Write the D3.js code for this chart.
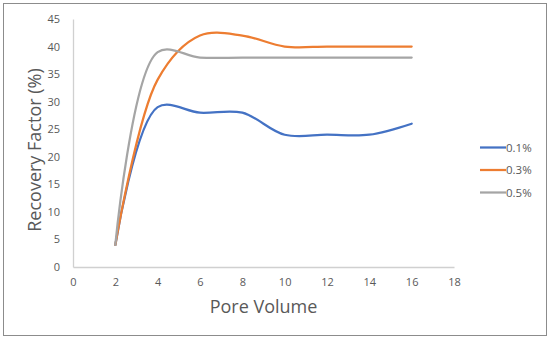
<!DOCTYPE html>
<html>
<head>
<meta charset="utf-8">
<script src="https://cdn.jsdelivr.net/npm/d3@7"></script>
<style>
  body { margin: 0; background: #fff; }
  text { font-family: "Open Sans", "Liberation Sans", sans-serif; }
</style>
</head>
<body>
<div id="chart"></div>
<script>
// data
var poreVolume = [2, 4, 6, 8, 10, 12, 14, 16];
var rf01 = [4, 29, 28, 28, 24, 24, 24, 26];
var rf03 = [4, 34, 42, 42, 40, 40, 40, 40];
var rf05 = [4, 39, 38, 38, 38, 38, 38, 38];
var seriesNames = ["0.1%", "0.3%", "0.5%"];
var xTicks = [0, 2, 4, 6, 8, 10, 12, 14, 16, 18];
var yTicks = [0, 5, 10, 15, 20, 25, 30, 35, 40, 45];

var colors = ["#4472C4", "#ED7D31", "#A5A5A5"];
var W = 550, H = 339;
var margin = { top: 19, right: 96, bottom: 72, left: 73 };

var svg = d3.select("#chart").append("svg")
  .attr("width", W)
  .attr("height", H);

// outer frame
svg.append("rect")
  .attr("x", 3.5).attr("y", 3.5)
  .attr("width", W - 7).attr("height", H - 7)
  .style("fill", "#fff")
  .style("stroke", "#8c8c8c")
  .style("stroke-width", 1);

var x = d3.scaleLinear().domain([0, 18]).range([margin.left, W - margin.right]);
var y = d3.scaleLinear().domain([0, 45]).range([H - margin.bottom, margin.top]);

// axes
var xAxis = svg.append("g")
  .attr("transform", "translate(0," + y(0) + ")")
  .call(d3.axisBottom(x).tickValues(xTicks).tickSize(0).tickPadding(11));
var yAxis = svg.append("g")
  .attr("transform", "translate(" + x(0) + ",0)")
  .call(d3.axisLeft(y).tickValues(yTicks).tickSize(0).tickPadding(13));

[xAxis, yAxis].forEach(function (a) {
  a.select(".domain").style("stroke", "#d0d0d0").style("stroke-width", 1.3);
  a.selectAll("text").style("fill", "#595959").style("font-size", "11px")
    .style("font-family", "'Open Sans', sans-serif");
});

// axis titles
svg.append("text")
  .attr("x", (x(0) + x(18)) / 2)
  .attr("y", 313)
  .attr("text-anchor", "middle")
  .style("font-size", "18px")
  .style("fill", "#595959")
  .text("Pore Volume");

svg.append("text")
  .attr("transform", "translate(41,150) rotate(-90)")
  .attr("text-anchor", "middle")
  .style("font-size", "18px")
  .style("fill", "#595959")
  .text("Recovery Factor (%)");

// lines (smoothed like the spreadsheet's smooth line option)
var series = [rf01, rf03, rf05];
var line = d3.line()
  .x(function (d, i) { return x(poreVolume[i]); })
  .y(function (d) { return y(d); })
  .curve(d3.curveCatmullRom.alpha(0.5));

svg.selectAll(".series")
  .data(series)
  .enter().append("path")
  .attr("class", "series")
  .attr("d", function (d) { return line(d); })
  .style("fill", "none")
  .style("stroke", function (d, i) { return colors[i]; })
  .style("stroke-width", 2.25)
  .style("stroke-linecap", "round");

// legend
var legend = svg.selectAll(".legend")
  .data(seriesNames)
  .enter().append("g")
  .attr("class", "legend")
  .attr("transform", function (d, i) { return "translate(480," + (147.5 + i * 22.5) + ")"; });

legend.append("line")
  .attr("x1", 0).attr("x2", 26)
  .style("stroke", function (d, i) { return colors[i]; })
  .style("stroke-width", 2.25);

legend.append("text")
  .attr("x", 26)
  .attr("dy", "0.35em")
  .style("font-size", "11.5px")
  .style("fill", "#595959")
  .text(function (d) { return d; });
</script>
</body>
</html>
